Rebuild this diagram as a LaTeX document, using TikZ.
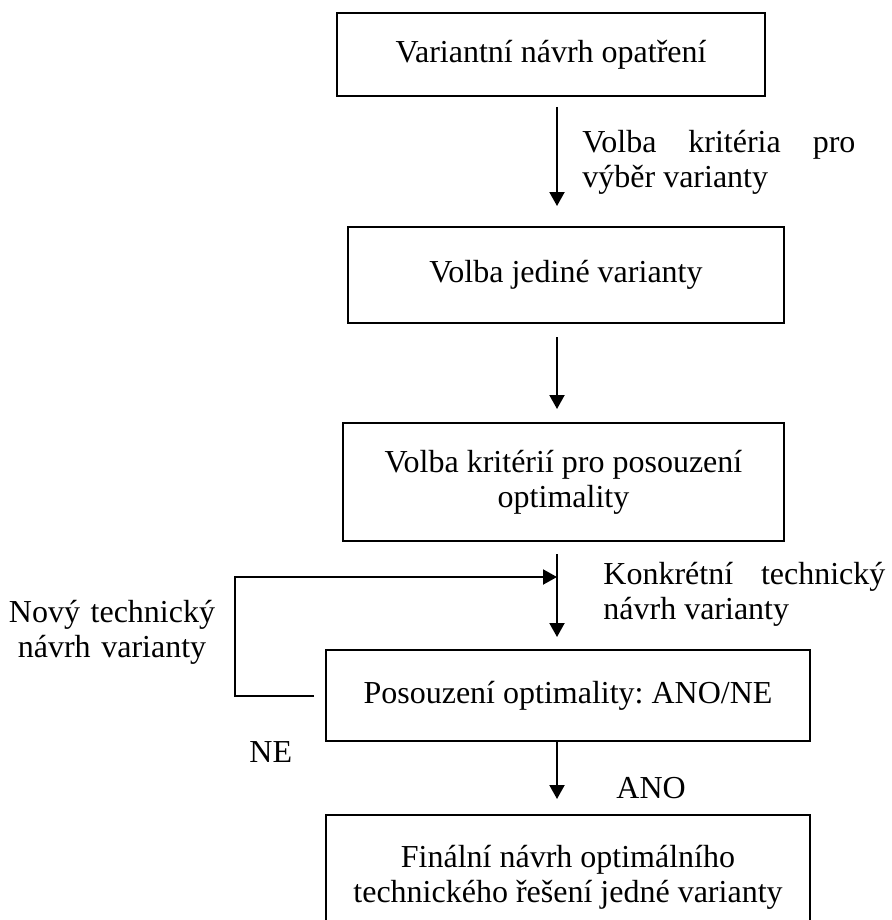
\documentclass[tikz,border=0pt]{standalone}
\usepackage{fontspec}
\setmainfont{Liberation Serif}
\usetikzlibrary{arrows.meta,calc}
\frenchspacing

\begin{document}
\begin{tikzpicture}[x=0.5pt,y=-0.5pt,
        font=\fontsize{16}{17.5}\selectfont,
        box/.style={draw,line width=1pt,inner sep=0pt,align=center},
        arr/.style={line width=1pt,-{Triangle[length=7pt,width=7.5pt]}},
        note/.style={inner sep=0pt,align=justify,text width=#1}]
            \clip (0,0) rectangle (892,920);
            \node[box,minimum width=214pt,minimum height=41.5pt] (vn) at (551,54.5) {Variantní návrh opatření};
            \node[box,minimum width=218pt,minimum height=48pt] (jv) at (566,275) {Volba jediné varianty};
            \node[box,minimum width=220.5pt,minimum height=59pt] (kr) at (563.5,482) {Volba kritérií pro posouzení\\optimality};
            \node[box,minimum width=242pt,minimum height=45.5pt] (po) at (568,695.5) {Posouzení optimality: ANO/NE};
            \node[box,minimum width=242pt,minimum height=62pt] (fi) at (568,877) {Finální návrh optimálního\\technického řešení jedné varianty};
            \coordinate (osa) at (557,0);
            \coordinate (styk) at (557,577);
            \draw[arr,shorten <=5pt,shorten >=10pt] (vn.south -| osa) -- (jv.north -| osa);
            \draw[arr,shorten <=6.5pt,shorten >=6.5pt] (jv.south -| osa) -- (kr.north -| osa);
            \draw[arr,shorten <=6pt,shorten >=6pt] (kr.south -| osa) -- (po.north -| osa);
            \draw[arr,shorten >=7.5pt] (po.south -| osa) -- (fi.north -| osa);
            \draw[arr] ([xshift=-5.5pt]po.west) -- ++(-79,0) |- (styk);
            \node[note=136.5pt,anchor=base west] (kv) at (582,152) {Volba kritéria pro výběr varianty};
            \node[note=141pt,anchor=base west] (kt) at (603,584) {Konkrétní technický návrh varianty};
            \node[inner sep=0pt,align=center,text width=110pt,anchor=base] (nt) at (112,622) {Nový technický\\návrh varianty};
            \node[inner sep=0pt,anchor=base west] (ne) at (249,762) {NE};
            \node[inner sep=0pt,anchor=base west] (ano) at (616,798) {ANO};
        \end{tikzpicture}
\end{document}
